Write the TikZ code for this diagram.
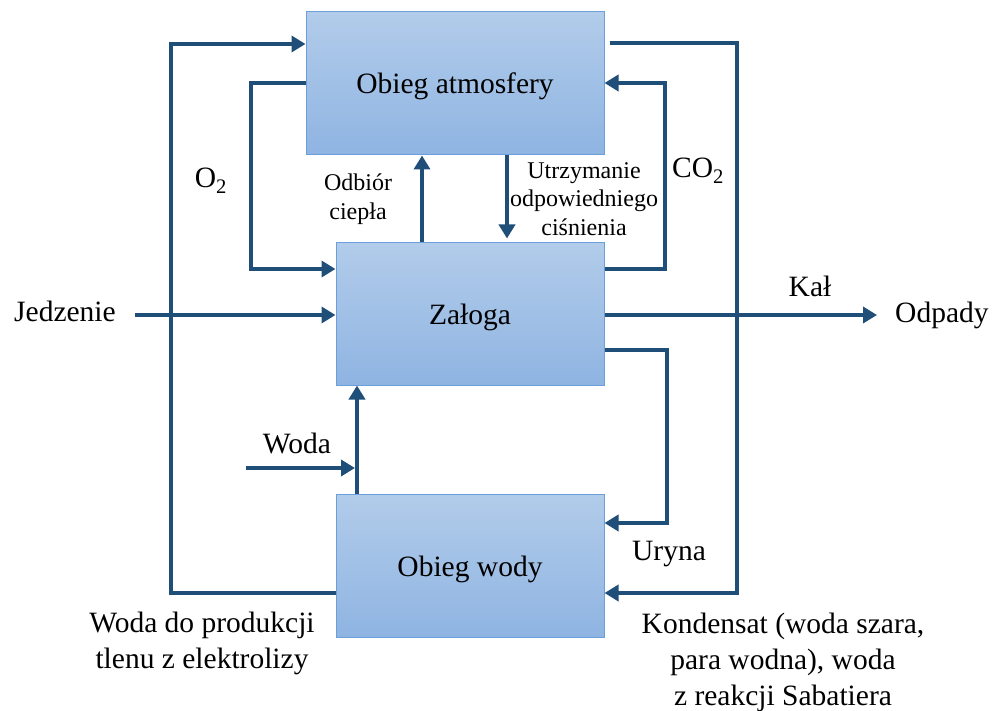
\documentclass[tikz,border=0pt]{standalone}
\usepackage{fontspec}
\setmainfont{Liberation Serif}
\usetikzlibrary{arrows.meta}
\definecolor{arr}{HTML}{1F4E79}
\definecolor{boxtop}{HTML}{B2CCEA}
\definecolor{boxbot}{HTML}{8FB4E2}
\definecolor{boxedge}{HTML}{6B9FDC}
\begin{document}
\begin{tikzpicture}[x=1pt,y=-1pt,
  blk/.style={draw=boxedge,line width=1pt,top color=boxtop,bottom color=boxbot,inner sep=0pt,
    text height=21pt,text depth=0pt,font=\fontsize{29.5}{35}\selectfont},
  conn/.style={draw=arr,line width=4pt,line join=miter,line cap=butt},
  tip/.style={-{Triangle[length=14pt,width=16pt]}},
  big/.style={font=\fontsize{29.5}{36}\selectfont,inner sep=0pt,align=center},
  small/.style={font=\fontsize{24}{28.5}\selectfont,inner sep=0pt,align=center}]
\useasboundingbox (0,0) rectangle (993,711);
% boxes
\node[blk,minimum width=298pt,minimum height=143pt] (atm) at (455,83.5) {Obieg atmosfery};
\node[blk,minimum width=268pt,minimum height=142pt] (zal) at (470,314) {Załoga};
\node[blk,minimum width=268pt,minimum height=143pt] (wod) at (470,565.5) {Obieg wody};
% free ends
\coordinate (jin) at (135,315);
\coordinate (kout) at (877,315);
\coordinate (win) at (246,468);
\coordinate (wjoin) at (357,468);
% outer left loop
\draw[conn,tip] (wod.west |- 0,593) -- (171,593) -- (171,44) -- (atm.west |- 0,44);
% O2 loop
\draw[conn,tip] (atm.west |- 0,83) -- (251,83) -- (251,269) -- (zal.west |- 0,269);
% Jedzenie
\draw[conn,tip] (jin) -- (zal.west |- jin);
% heat removal
\draw[conn,tip] (zal.north -| 422,0) -- (atm.south -| 422,0);
% pressure
\draw[conn,tip,shorten >=4pt] (atm.south -| 507,0) -- (zal.north -| 507,0);
% CO2 loop
\draw[conn,tip] (zal.east |- 0,269) -- (665,269) -- (665,83) -- (atm.east |- 0,83);
% outer right loop
\draw[conn,tip,shorten <=5pt] (atm.east |- 0,43) -- (737,43) -- (737,593) -- (wod.east |- 0,593);
% Kal
\draw[conn,tip] (zal.east |- kout) -- (kout);
% Uryna loop
\draw[conn,tip] (zal.east |- 0,350) -- (667,350) -- (667,523) -- (wod.east |- 0,523);
% water up
\draw[conn,tip] (wod.north -| 357,0) -- (zal.south -| 357,0);
% Woda input
\draw[conn,tip,shorten >=2pt] (win) -- (wjoin);
% labels
\node[big] (ljed) at (65,311) {Jedzenie};
\node[big,anchor=base west] (lodp) at (895,322) {Odpady};
\node[big,anchor=base] (lkal) at (810,297) {Kał};
\node[big,anchor=base] (lo2) at (211,188) {O\textsubscript{2}};
\node[big,anchor=base] (lco2) at (698,178) {CO\textsubscript{2}};
\node[big,anchor=base] (lwoda) at (297,453) {Woda};
\node[big,anchor=base] (lury) at (669,560) {Uryna};
\node[small] (lodb) at (358,199) {Odbiór\\ciepła};
\node[small] (lutr) at (584,199) {Utrzymanie\\odpowiedniego\\ciśnienia};
\node[big] (lwdp) at (202,643) {Woda do produkcji\\tlenu z elektrolizy};
\node[big] (lkon) at (783,662) {Kondensat (woda szara,\\para wodna), woda\\z reakcji Sabatiera};
\end{tikzpicture}
\end{document}
